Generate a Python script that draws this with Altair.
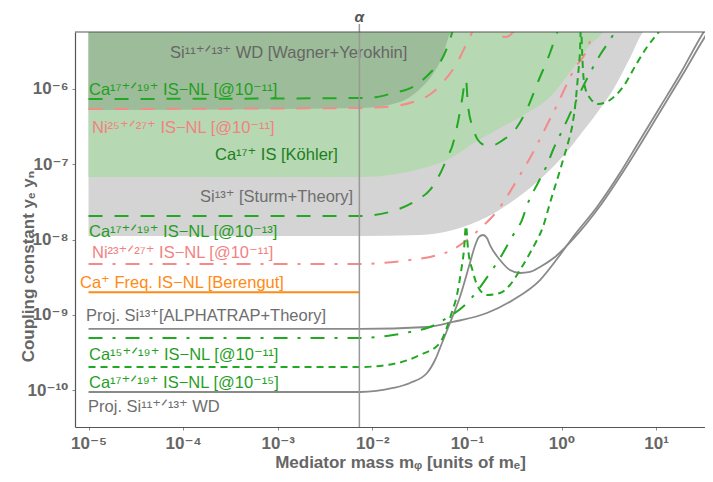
import altair as alt
import pandas as pd

FONT = "Liberation Sans, Arial, DejaVu Sans"
ALPHA = 1 / 137.036

# ---------------- shaded excluded regions: lower boundary (log10 m, log10 y) ----------------
wd_region_logm = [-5.0, -2.130, -1.781, -1.601, -1.496, -1.359, -1.253, -1.190, -1.169, -1.160]
wd_region_logg = [-6.279, -6.252, -6.199, -6.106, -6.000, -5.801, -5.548, -5.296, -5.243, -5.15]

kohler_logm = [-5.0, -2.130, -1.422, -1.211, -0.894, -0.650, -0.365, -0.122, 0.090, 0.301, 0.438, 0.46]
kohler_logg = [-7.169, -7.169, -7.036, -6.943, -6.691, -6.518, -6.319, -6.106, -5.774, -5.415, -5.243, -5.20]

sturm_logm = [-5.0, -2.130, -1.496, -1.148, -0.788, -0.545, -0.333, -0.122, 0.090, 0.196, 0.375, 0.544, 0.724, 0.862, 0.89]
sturm_logg = [-7.952, -7.952, -7.939, -7.873, -7.700, -7.514, -7.315, -7.076, -6.784, -6.611, -6.319, -6.013, -5.588, -5.243, -5.2]

# ---------------- bound curves ----------------
ca1719_11_logm = [-5.0, -2.130, -1.950, -1.781, -1.570, -1.390, -1.253, -1.158, -1.137]
ca1719_11_logg = [-6.133, -6.120, -6.106, -6.053, -5.973, -5.788, -5.575, -5.256, -5.150]

ni2527_logm = [-5.0, -2.130, -1.760, -1.570, -1.369, -1.232, -1.105, -1.021, -0.946, -0.904,
               -0.756, -0.724, -0.682, -0.640, -0.597, -0.555, -0.523, -0.481, -0.460]
ni2527_logg = [-6.266, -6.252, -6.226, -6.173, -6.053, -5.880, -5.655, -5.442, -5.243, -5.084,
               -5.084, -5.190, -5.256, -5.296, -5.309, -5.296, -5.256, -5.190, -5.084]

ni2327_logm = [-5.0, -2.130, -1.601, -1.390, -1.158, -0.999, -0.830, -0.672, -0.566, -0.439,
               -0.333, -0.249, -0.143, -0.037, 0.037, 0.143, 0.269, 0.333, 0.375]
ni2327_logg = [-8.324, -8.324, -8.271, -8.231, -8.138, -8.005, -7.819, -7.607, -7.408, -7.142,
               -6.916, -6.717, -6.452, -6.186, -5.987, -5.721, -5.482, -5.256, -5.150]

berengut_logm = [-5.0, -2.137]
berengut_logg = [-8.699, -8.699]

alphatrap_logm = [-5.0, -2.130, -1.422, -1.148, -0.788, -0.513, -0.227, -0.016, 0.122, 0.375,
                  0.618, 0.830, 1.042, 1.253, 1.497, 1.571]
alphatrap_logg = [-9.187, -9.187, -9.161, -9.094, -8.975, -8.802, -8.537, -8.205, -7.965, -7.567,
                  -7.116, -6.677, -6.239, -5.801, -5.256, -5.110]

projwd_logm = [-5.0, -2.130, -1.781, -1.601, -1.422, -1.337, -1.263, -1.179, -1.074, -0.968,
               -0.915, -0.872, -0.830, -0.788, -0.756, -0.650, -0.545, -0.439, -0.333, -0.227,
               -0.069, 0.143, 0.407, 0.650, 0.862, 1.073, 1.285, 1.529, 1.60]
projwd_logg = [-10.024, -10.024, -9.971, -9.904, -9.772, -9.599, -9.373, -9.108, -8.762, -8.311,
               -8.085, -7.965, -7.939, -7.979, -8.072, -8.271, -8.404, -8.444, -8.430, -8.364,
               -8.231, -7.965, -7.554, -7.102, -6.677, -6.239, -5.801, -5.283, -5.15]

ca1719_13_logm = [-5.0, -2.130, -1.781, -1.528, -1.390, -1.285, -1.200, -1.158, -1.105, -1.052,
                  -1.021, -1.010, -0.989, -0.936, -0.883, -0.809, -0.724, -0.618, -0.470, -0.355,
                  -0.249, -0.122, -0.048, -0.016]
ca1719_13_logg = [-7.687, -7.687, -7.620, -7.474, -7.341, -7.129, -6.890, -6.770, -6.505, -6.146,
                  -5.907, -5.880, -6.212, -6.518, -6.677, -6.744, -6.744, -6.677, -6.505, -6.239,
                  -5.907, -5.522, -5.256, -5.150]

ca1519_11_logm = [-5.0, -2.130, -1.781, -1.601, -1.390, -1.211, -1.021, -0.883, -0.756, -0.650,
                  -0.523, -0.418, -0.355, -0.249, -0.153, -0.090, 0.026, 0.143, 0.301, 0.407,
                  0.513, 0.576]
ca1519_11_logg = [-9.307, -9.307, -9.267, -9.227, -9.161, -9.041, -8.869, -8.669, -8.444, -8.245,
                  -7.965, -7.740, -7.514, -7.248, -7.009, -6.810, -6.505, -6.186, -5.788, -5.548,
                  -5.349, -5.216]

ca1719_15_logm = [-5.0, -2.130, -1.781, -1.496, -1.285, -1.221, -1.158, -1.105, -1.063, -1.031,
                  -1.010, -0.989, -0.936, -0.883, -0.788, -0.650, -0.545, -0.439, -0.333, -0.259,
                  -0.196, -0.143, -0.090, -0.037, 0.016, 0.069, 0.111, 0.143, 0.175, 0.196,
                  0.206, 0.217, 0.227, 0.248, 0.301, 0.386, 0.513, 0.650, 0.798, 0.904,
                  1.042, 1.095]
ca1719_15_logg = [-9.692, -9.692, -9.652, -9.533, -9.373, -9.200, -8.961, -8.736, -8.430, -8.138,
                  -7.819, -8.112, -8.430, -8.629, -8.736, -8.709, -8.603, -8.404, -8.178, -8.005,
                  -7.833, -7.607, -7.381, -7.169, -6.943, -6.717, -6.505, -6.239, -5.814, -5.482,
                  -5.150, -5.482, -5.748, -5.973, -6.120, -6.199, -6.146, -5.973, -5.655, -5.442,
                  -5.216, -5.110]

# ---------------- labels ----------------
label_text = [
    "Si¹¹⁺ᐟ¹³⁺ WD [Wagner+Yerokhin]",
    "Ca¹⁷⁺ᐟ¹⁹⁺ IS−NL [@10⁻¹¹]",
    "Ni²⁵⁺ᐟ²⁷⁺ IS−NL [@10⁻¹¹]",
    "Ca¹⁷⁺ IS [Köhler]",
    "Si¹³⁺ [Sturm+Theory]",
    "Ca¹⁷⁺ᐟ¹⁹⁺ IS−NL [@10⁻¹³]",
    "Ni²³⁺ᐟ²⁷⁺ IS−NL [@10⁻¹¹]",
    "Ca⁺ Freq. IS−NL [Berengut]",
    "Proj. Si¹³⁺[ALPHATRAP+Theory]",
    "Ca¹⁵⁺ᐟ¹⁹⁺ IS−NL [@10⁻¹¹]",
    "Ca¹⁷⁺ᐟ¹⁹⁺ IS−NL [@10⁻¹⁵]",
    "Proj. Si¹¹⁺ᐟ¹³⁺ WD",
]
label_logm = [-4.138, -4.995, -4.963, -3.663, -3.821, -4.995, -4.963, -5.090, -5.026, -4.995, -4.995, -5.005]
label_logg = [-5.588, -6.080, -6.584, -6.943, -7.501, -7.965, -8.244, -8.643, -9.081, -9.599, -9.971, -10.290]

GREEN = "#22a822"
PINK = "#f48a8a"
ORANGE = "#ff8a14"
GRAYL = "#8a8a8a"
label_color = ["#666666", "#1f9f1f", "#f28282", "#1c7f1c", "#6e6e6e", "#1f9f1f",
               "#f28282", "#ff8a14", "#6e6e6e", "#1f9f1f", "#1f9f1f", "#6e6e6e"]

x_ticks = [-5, -4, -3, -2, -1, 0, 1]
y_ticks = [-10, -9, -8, -7, -6]
X_LOG_DOMAIN = [-5.143, 1.517]
Y_LOG_DOMAIN = [-10.489, -5.243]

W, H = 630, 395
xscale = alt.Scale(type="log", domain=[10 ** X_LOG_DOMAIN[0], 10 ** X_LOG_DOMAIN[1]], nice=False)
yscale = alt.Scale(type="log", domain=[10 ** Y_LOG_DOMAIN[0], 10 ** Y_LOG_DOMAIN[1]], nice=False)

SUP = str.maketrans("0123456789-", "⁰¹²³⁴⁵⁶⁷⁸⁹⁻")


def label_expr(exps):
    parts = [f"abs(log(datum.value)/LN10 - ({e})) < 0.01 ? '10{str(e).translate(SUP)}'" for e in exps]
    return " : ".join(parts) + " : ''"


xaxis = alt.Axis(values=[10.0 ** e for e in x_ticks], labelExpr=label_expr(x_ticks),
                 title="Mediator mass mᵩ [units of mₑ]", titleX=325, titleY=35,
                 titleBaseline="middle", labelPadding=5)
yaxis = alt.Axis(values=[10.0 ** e for e in y_ticks], labelExpr=label_expr(y_ticks),
                 title="Coupling constant yₑ yₙ", titleAngle=270, titleX=-47, titleY=234,
                 titleAlign="center", titleBaseline="middle", labelPadding=4)


def frame(logm, logg):
    return pd.DataFrame({"m": [10.0 ** v for v in logm], "g": [10.0 ** v for v in logg],
                         "top": [10.0 ** Y_LOG_DOMAIN[1]] * len(logm),
                         "i": list(range(len(logm)))})


def region(logm, logg, color):
    return alt.Chart(frame(logm, logg)).mark_area(fill=color, stroke=None, clip=True,
                                                  opacity=1, interpolate="monotone").encode(
        x=alt.X("m:Q", scale=xscale, axis=xaxis),
        y=alt.Y("top:Q", scale=yscale, axis=yaxis, stack=None),
        y2=alt.Y2("g:Q"),
    )


def curve(logm, logg, color, dash=None, width=1.8):
    kw = dict(color=color, strokeWidth=width, clip=True, interpolate="monotone")
    if dash:
        kw["strokeDash"] = dash
    return alt.Chart(frame(logm, logg)).mark_line(**kw).encode(
        x=alt.X("m:Q", scale=xscale, axis=xaxis),
        y=alt.Y("g:Q", scale=yscale, axis=yaxis),
        order="i:Q",
    )


LONG = [14, 12]
DASHDOT = [14, 10, 3, 10]
SHORT = [7, 5]

layers = [
    region(sturm_logm, sturm_logg, "#d4d4d4"),
    region(kohler_logm, kohler_logg, "#b6d8b2"),
    region(wd_region_logm, wd_region_logg, "#9dbc99"),
    curve(ca1719_11_logm, ca1719_11_logg, GREEN, LONG, 2),
    curve(ni2527_logm, ni2527_logg, PINK, LONG, 2),
    curve(ni2327_logm, ni2327_logg, PINK, DASHDOT, 2),
    curve(berengut_logm, berengut_logg, ORANGE, None, 2),
    curve(alphatrap_logm, alphatrap_logg, GRAYL, None, 1.8),
    curve(projwd_logm, projwd_logg, GRAYL, None, 1.8),
    curve(ca1719_13_logm, ca1719_13_logg, GREEN, LONG, 2),
    curve(ca1519_11_logm, ca1519_11_logg, GREEN, DASHDOT, 2),
    curve(ca1719_15_logm, ca1719_15_logg, GREEN, SHORT, 2),
]

labels_df = pd.DataFrame({"t": label_text, "m": [10.0 ** v for v in label_logm],
                          "g": [10.0 ** v for v in label_logg], "c": label_color})
labels = alt.Chart(labels_df).mark_text(align="left", baseline="alphabetic", font=FONT,
                                        fontSize=16.5).encode(
    x=alt.X("m:Q", scale=xscale, axis=xaxis),
    y=alt.Y("g:Q", scale=yscale, axis=yaxis),
    text="t:N",
    color=alt.Color("c:N", scale=None),
)

alpha_df = pd.DataFrame({"m": [ALPHA], "t": ["α"]})
alpha_rule = alt.Chart(alpha_df).mark_rule(color="#999999", strokeWidth=1.5).encode(
    x=alt.X("m:Q", scale=xscale, axis=xaxis),
    y=alt.value(-8),
    y2=alt.value(H),
)
alpha_text = alt.Chart(alpha_df).mark_text(font=FONT, fontSize=15.5, fontWeight="bold",
                                           fontStyle="italic", color="#555555",
                                           baseline="alphabetic").encode(
    x=alt.X("m:Q", scale=xscale, axis=xaxis),
    y=alt.value(-10),
    text="t:N",
)

# top frame line of the plot box
top_frame = alt.Chart(alpha_df).mark_rule(color="#555555", strokeWidth=1.2).encode(
    x=alt.value(0), x2=alt.value(W), y=alt.value(0),
)

chart = alt.layer(*layers, labels, alpha_rule, alpha_text, top_frame).properties(
    width=W, height=H,
    autosize=alt.AutoSizeParams(type="none"),
    padding={"left": 67, "top": 24, "right": 0, "bottom": 47},
).configure_view(stroke=None).configure_axis(
    grid=False, domainColor="#555555", domainWidth=1.2, tickColor="#888888", tickSize=3,
    labelFont=FONT, labelFontSize=17, labelFontWeight="bold", labelColor="#666666",
    titleFont=FONT, titleFontSize=17, titleFontWeight="bold", titleColor="#666666",
)

chart.save("out.html", embed_options={"renderer": "svg", "actions": False})
